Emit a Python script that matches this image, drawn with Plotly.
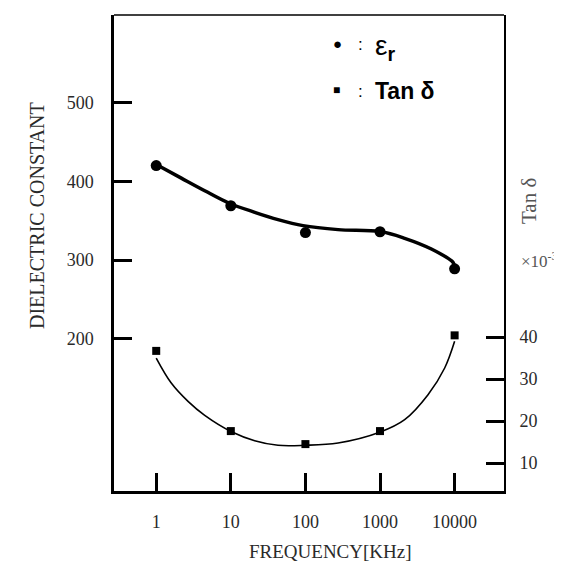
import plotly.graph_objects as go

# ---- data ----
freq_khz = [1, 10, 100, 1000, 10000]
eps_r = [420, 369, 335, 336, 289]
tan_delta = [36.7, 17.6, 14.5, 17.6, 40.4]

# hand-drawn smooth curves
eps_curve_freq = [1.06, 2.17, 4.47, 9.37, 20.9, 42.9, 92.9, 274, 1010, 2140, 4880, 9530, 10000]
eps_curve_val = [420, 404, 388, 372.5, 360.7, 351.4, 343.8, 338.7, 336.2, 327.7, 314.1, 297.2, 291]
tan_curve_freq = [1.0, 1.59, 2.67, 4.47, 10.4, 20.9, 42.9, 97.9, 274, 1010, 2140, 4400, 7360, 10000]
tan_curve_val = [35.0, 29.05, 24.69, 21.36, 17.38, 15.31, 14.21, 14.21, 14.76, 17.38, 20.31, 26.26, 32.62, 38.98]

x_tick_vals = [1, 10, 100, 1000, 10000]
x_tick_text = ["1", "10", "100", "1000", "10000"]
y1_tick_vals = [200, 300, 400, 500]
y2_tick_vals = [10, 20, 30, 40]

# ---- layout geometry ----
W, H = 562, 563
L, R, T, B = 106, 66, 7, 80
PW, PH = W - L - R, H - T - B


def pxx(x):
    return (x - L) / PW


def pyy(y):
    return (H - B - y) / PH


SERIF = "Liberation Serif, Times New Roman, serif"
SANS = "Liberation Sans, Arial, sans-serif"
LABEL_COLOR = "#2a2a2a"

fig = go.Figure()
fig.add_trace(go.Scatter(
    x=eps_curve_freq, y=eps_curve_val, mode="lines", yaxis="y",
    line=dict(shape="spline", smoothing=1.0, width=3.5, color="black"),
    showlegend=False, hoverinfo="skip",
))
fig.add_trace(go.Scatter(
    x=freq_khz, y=eps_r, mode="markers", yaxis="y",
    marker=dict(symbol="circle", size=11, color="black"),
    showlegend=False,
))
fig.add_trace(go.Scatter(
    x=tan_curve_freq, y=tan_curve_val, mode="lines", yaxis="y2",
    line=dict(shape="spline", smoothing=1.0, width=1.6, color="black"),
    showlegend=False, hoverinfo="skip",
))
fig.add_trace(go.Scatter(
    x=freq_khz, y=tan_delta, mode="markers", yaxis="y2",
    marker=dict(symbol="square", size=8, color="black"),
    showlegend=False,
))

axis_common = dict(
    showgrid=False, zeroline=False, showline=True, linecolor="black",
    ticks="inside", ticklen=18, tickwidth=3, tickcolor="black", automargin=False,
    tickfont=dict(family=SERIF, size=18, color=LABEL_COLOR),
)

fig.update_layout(
    width=W, height=H,
    margin=dict(l=L, r=R, t=T, b=B, pad=0),
    paper_bgcolor="white", plot_bgcolor="white",
    xaxis=dict(
        type="log", range=[-0.566, 4.662],
        tickvals=x_tick_vals, ticktext=x_tick_text,
        linewidth=3, ticklabelstandoff=12, **axis_common,
    ),
    yaxis=dict(
        range=[7.1, 611], tickvals=y1_tick_vals,
        linewidth=2.5, ticklabelstandoff=14, **axis_common,
    ),
    yaxis2=dict(
        range=[3.33, 116.7], tickvals=y2_tick_vals,
        overlaying="y", side="right",
        linewidth=2, ticklabelstandoff=10, **axis_common,
    ),
    shapes=[dict(type="line", xref="paper", yref="paper", x0=0, x1=1, y0=1, y1=1,
                 line=dict(color="black", width=1.5))],
)

ann = []
# axis titles
ann.append(dict(text="FREQUENCY[KHz]", x=pxx(322), y=pyy(543), xref="paper", yref="paper",
                showarrow=False, xanchor="center", yanchor="middle",
                font=dict(family=SERIF, size=19, color=LABEL_COLOR)))
ann.append(dict(text="DIELECTRIC CONSTANT", x=pxx(29), y=pyy(208), xref="paper", yref="paper",
                showarrow=False, textangle=-90, xanchor="center", yanchor="middle",
                font=dict(family=SERIF, size=20, color=LABEL_COLOR)))
ann.append(dict(text="Tan δ", x=pxx(521), y=pyy(193), xref="paper", yref="paper",
                showarrow=False, textangle=-90, xanchor="center", yanchor="middle",
                font=dict(family=SERIF, size=21, color="#555")))
ann.append(dict(text="×10<sup>-3</sup>", x=pxx(511), y=pyy(252), xref="paper", yref="paper",
                showarrow=False, xanchor="left", yanchor="middle",
                font=dict(family=SERIF, size=17, color="#555")))
# legend
ann.append(dict(text="●", x=pxx(329), y=pyy(35), xref="paper", yref="paper", showarrow=False,
                xanchor="center", yanchor="middle", font=dict(family=SANS, size=15, color="black")))
ann.append(dict(text="■", x=pxx(328), y=pyy(82), xref="paper", yref="paper", showarrow=False,
                xanchor="center", yanchor="middle", font=dict(family=SANS, size=12, color="black")))
for yy in (36, 83):
    ann.append(dict(text=":", x=pxx(352), y=pyy(yy), xref="paper", yref="paper", showarrow=False,
                    xanchor="center", yanchor="middle", font=dict(family=SANS, size=17, color="black")))
ann.append(dict(text="ε<sub><b>r</b></sub>", x=pxx(365), y=pyy(40), xref="paper", yref="paper",
                showarrow=False, xanchor="left", yanchor="middle",
                font=dict(family=SANS, size=28, color="black")))
ann.append(dict(text="<b>Tan δ</b>", x=pxx(365), y=pyy(83), xref="paper", yref="paper",
                showarrow=False, xanchor="left", yanchor="middle",
                font=dict(family=SANS, size=23, color="black")))
fig.update_layout(annotations=ann)

fig.write_html("out.html")
